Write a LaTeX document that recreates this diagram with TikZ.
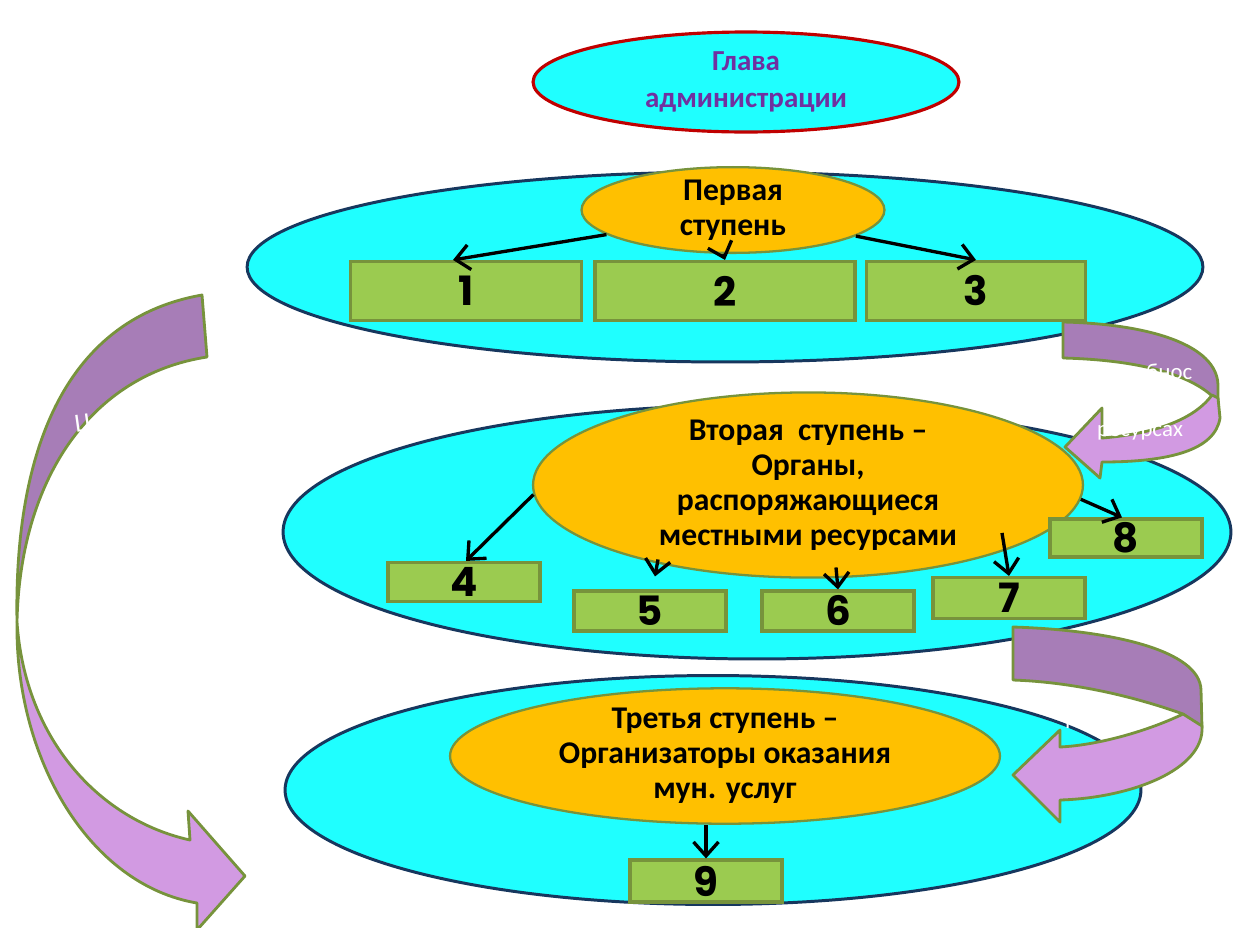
\documentclass[tikz,border=0pt]{standalone}
\usepackage{fontspec}
\setmainfont{Carlito}
\newfontfamily\numfont{Poppins}
\usetikzlibrary{shapes.geometric,arrows.meta,calc}

\definecolor{aqua}{RGB}{31,255,255}
\definecolor{navyline}{RGB}{23,55,94}
\definecolor{amber}{RGB}{255,192,0}
\definecolor{oliveline}{RGB}{119,147,60}
\definecolor{leaf}{RGB}{155,203,80}
\definecolor{headred}{RGB}{192,0,0}
\definecolor{headtext}{RGB}{112,48,160}
\definecolor{bandtop}{RGB}{167,125,183}
\definecolor{bandlow}{RGB}{210,154,226}

\begin{document}
\begin{tikzpicture}[x=0.02cm,y=-0.02cm,
  level/.style={ellipse,draw=navyline,line width=1.7pt,fill=aqua,inner sep=0},
  stage/.style={ellipse,draw=oliveline,line width=1.3pt,fill=amber,inner sep=0,
    align=center,font=\bfseries\fontsize{18}{20}\selectfont},
  numbox/.style={rectangle,draw=oliveline,line width=1.8pt,fill=leaf,inner sep=0,
    minimum width=3.04cm,font=\numfont\bfseries\fontsize{23}{23}\selectfont},
  conn/.style={line width=1.9pt,-{Straight Barb[length=2.8mm,width=5mm]}},
  band/.style={draw=oliveline,line width=1.6pt,line join=round},
  note/.style={text=white,align=center,font=\fontsize{13}{16}\selectfont}]
\useasboundingbox (0,0) rectangle (1234,927);

% head of administration
\node[ellipse,draw=headred,line width=1.8pt,fill=aqua,inner sep=0,
  minimum width=8.52cm,minimum height=2.0cm,align=center,text=headtext,
  font=\bfseries\fontsize{16.5}{21.5}\selectfont] (head) at (746,82) {Глава\\администрации};

% first stage
\node[level,minimum width=19.12cm,minimum height=3.8cm] (lvl1) at (725,267) {};
\node[stage,minimum width=6.06cm,minimum height=1.28cm] (st1) at (733,210) {Первая\\ступень};
\node[numbox,minimum width=4.62cm,minimum height=1.18cm] (b1) at (466,291) {1};
\node[numbox,minimum width=5.2cm,minimum height=1.18cm] (b2) at (725,291) {2};
\node[numbox,minimum width=4.38cm,minimum height=1.18cm] (b3) at (976,291) {3};
\draw[conn] (st1.191) -- ($(b1.north)+(-13,0)$);
\draw[conn] ($(st1.south)+(-10,0)$) -- (b2.north);
\draw[conn] (st1.348) -- (b3.north);

% second stage
\node[level,minimum width=18.96cm,minimum height=5.08cm] (lvl2) at (757,532) {};
\node[stage,minimum width=11.0cm,minimum height=3.26cm] (st2) at (808,485)
  {Вторая\ \ ступень –\\Органы,\\распоряжающиеся\\местными ресурсами};
\node[numbox,minimum height=0.78cm] (b4) at (464,582) {4};
\node[numbox,minimum height=0.8cm] (b5) at (650,611) {5};
\node[numbox,minimum height=0.8cm] (b6) at (838,611) {6};
\node[numbox,minimum height=0.82cm] (b7) at (1009,598) {7};
\node[numbox,minimum height=0.76cm] (b8) at (1126,538) {8};
\draw[conn] (st2.182) -- ($(b4.north)+(2,0)$);
\draw[conn] ($(b5.north)+(8,-30)$) -- ($(b5.north)+(5,-13)$);
\draw[conn] ($(b6.north)+(-2,-22)$) -- (b6.north);
\draw[conn] ($(b7.north)+(-7,-43)$) -- (b7.north);
\draw[conn] (st2.357) -- ($(b8.north)+(-4,0)$);

% third stage
\node[level,minimum width=17.12cm,minimum height=4.58cm] (lvl3) at (713,790) {};
\node[stage,minimum width=11.0cm,minimum height=2.5cm] (st3) at (725,756)
  {Третья ступень –\\Организаторы оказания\\мун. услуг};
\node[numbox,minimum height=0.84cm] (b9) at (706,881) {9};
\draw[conn] (b9.north |- st3.south) -- (b9.north);

% left ribbon arrow
\fill[bandtop,band] (202,295) .. controls (60,320) and (14,460) .. (17,622)
  .. controls (20,480) and (90,375) .. (207,357) -- cycle;
\fill[bandlow,band] (17,622) .. controls (25,740) and (100,820) .. (190,840)
  -- (188,811) -- (245,876) -- (197,930) -- (197,903)
  .. controls (90,885) and (15,760) .. (17,622) -- cycle;
\node[note,font=\fontsize{15}{24}\selectfont,rotate=8] (goals) at (112,462) {Цели,\\задачи,\\полномочия};

% upper right ribbon arrow
\fill[bandtop,band] (1063,322) .. controls (1150,324) and (1217,345) .. (1218,385)
  -- (1218,402) .. controls (1195,375) and (1140,360) .. (1063,358) -- cycle;
\fill[bandlow,band] (1212,395) -- (1218,398) -- (1220,418)
  .. controls (1215,450) and (1170,462) .. (1102,462)
  -- (1100,478) -- (1065,447) -- (1102,408) -- (1102,438)
  .. controls (1140,435) and (1190,425) .. (1212,395) -- cycle;
\node[note] (need) at (1140,402) {Потребнос\\ть в\\ресурсах};

% lower right ribbon arrow
\fill[bandtop,band] (1013,627) .. controls (1110,630) and (1200,650) .. (1201,690)
  -- (1202,728) -- (1183,714) .. controls (1130,695) and (1070,682) .. (1013,680) -- cycle;
\fill[bandlow,band] (1183,714) -- (1202,726)
  .. controls (1205,770) and (1130,798) .. (1060,800)
  -- (1060,822) -- (1013,775) -- (1060,730) -- (1060,747)
  .. controls (1100,745) and (1150,730) .. (1183,714) -- cycle;
\node[note] (res) at (1105,723) {Ресурсы};
\end{tikzpicture}
\end{document}
